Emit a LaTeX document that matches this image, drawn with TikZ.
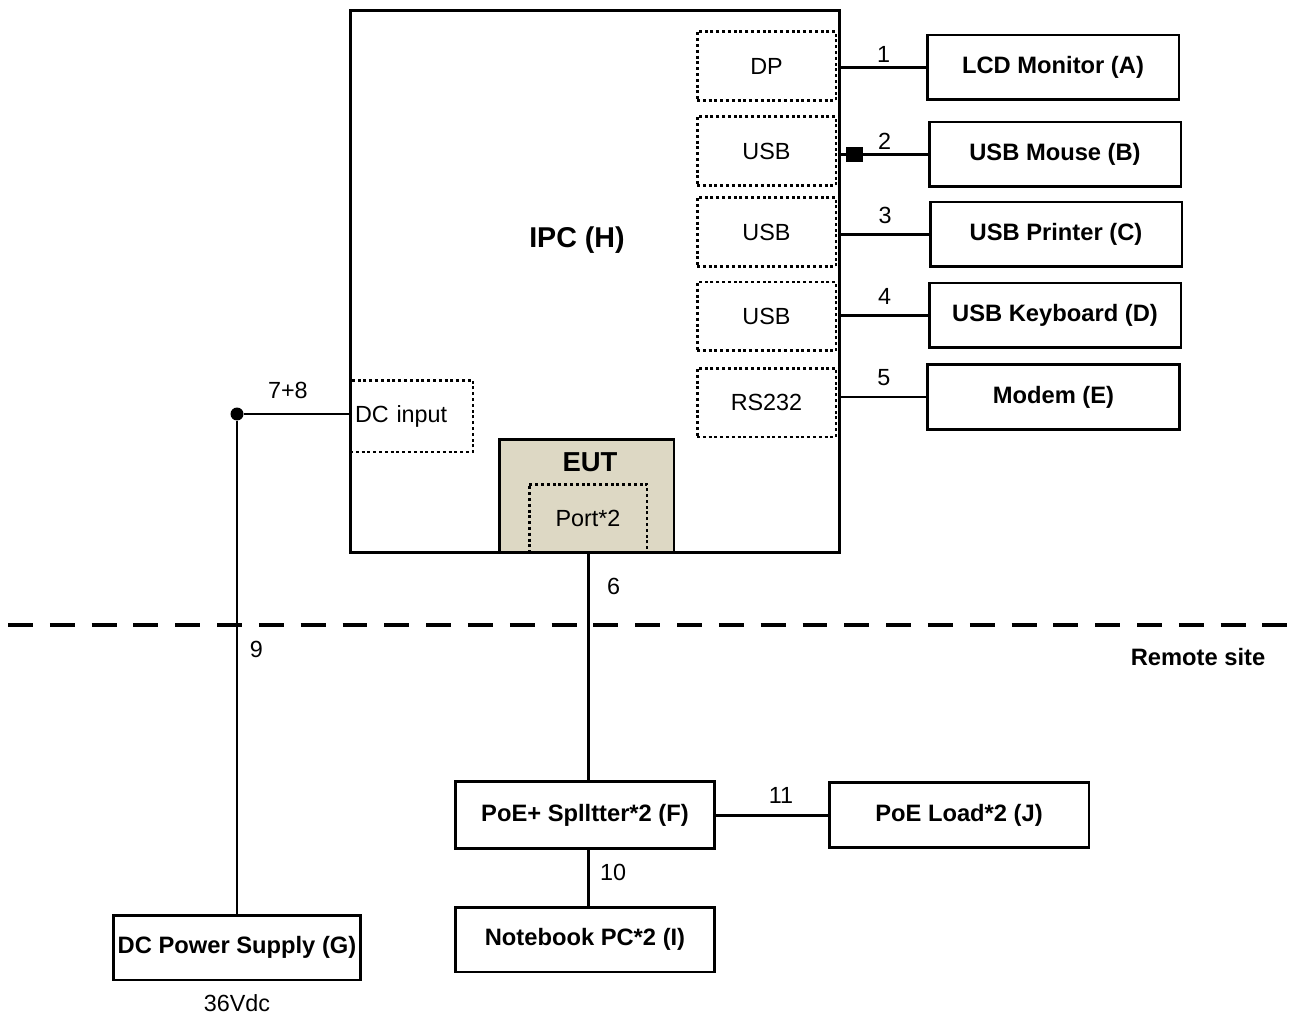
\documentclass[tikz,border=0pt]{standalone}
\usepackage{fontspec}
\setmainfont{Liberation Sans}
\definecolor{eutfill}{RGB}{221,216,196}
\tikzset{
    dev/.style={draw, line width=1.7pt, minimum width=5.04cm, minimum height=1.3cm, inner sep=0pt, font=\fontsize{13.5}{16}\selectfont\bfseries},
    port/.style={draw, line width=1.7pt, dash pattern=on 1.7pt off 1.6pt, minimum width=2.78cm, minimum height=1.38cm, inner sep=0pt, font=\fontsize{13.3}{16}\selectfont},
    num/.style={font=\fontsize{13.3}{16}\selectfont, inner sep=2pt},
    cable/.style={line width=1.7pt}
}
\begin{document}
\begin{tikzpicture}[x=0.02cm, y=-0.02cm]
        \useasboundingbox (0,0) rectangle (1293,1016);
        %IPC
        \node [draw, line width=1.7pt, minimum width=9.8cm, minimum height=10.86cm]
        (ipc)at(595,281.5){};
        \node [font=\fontsize{16.3}{19}\selectfont\bfseries]
        (ipclabel)at(577,240){IPC (H)};
        %Ports
        \node [port] (dp)at(766.5,66){DP};
        \node [port] (usba)at(766.5,151){USB};
        \node [port] (usbb)at(766.5,232){USB};
        \node [port] (usbc)at(766.5,316.5){USB};
        \node [port] (rs)at(766.5,402.5){RS232};
        \node [port, minimum width=2.46cm, minimum height=1.44cm, text width=2.26cm, inner xsep=0.1cm, align=left]
        (dcin)at(411.5,416){DC input};
        %EUT
        \node [draw, line width=1.7pt, fill=eutfill, minimum width=3.5cm, minimum height=2.28cm]
        (eut)at(586.5,496){};
        \node [font=\fontsize{15.6}{19}\selectfont\bfseries] (eutlabel)at(590,462){EUT};
        \node [port, minimum width=2.36cm] (eutport)at(588,518.5){Port*2};

        %Peripherals
        \node [dev] (lcd)at(1053,67.5){LCD Monitor (A)};
        \node [dev] (mouse)at(1055,154.5){USB Mouse (B)};
        \node [dev] (printer)at(1056,234.5){USB Printer (C)};
        \node [dev] (keyboard)at(1055,315.5){USB Keyboard (D)};
        \node [dev] (modem)at(1053.5,397){Modem (E)};

        %Remote site
        \node [dev, minimum width=5.2cm, minimum height=1.34cm] (splitter)at(585,815){PoE+ Splltter*2 (F)};
        \node [dev, minimum width=5.2cm] (load)at(959,815){PoE Load*2 (J)};
        \node [dev, minimum width=5.2cm] (notebook)at(585,939.5){Notebook PC*2 (I)};
        \node [dev, minimum width=4.96cm] (dcps)at(237,947.5){DC Power Supply (G)};
        \node [num] (supply)at(237,1003){36Vdc};
        \node [font=\fontsize{13.5}{16}\selectfont\bfseries] (remote)at(1198,657){Remote site};

        \draw [line width=2.8pt, dash pattern=on 14.2pt off 9.6pt] (8,625)--(1293,625);

        %Cables
        \node [circle, fill, inner sep=0pt, minimum size=0.26cm] (junction)at(237,414){};
        \node [fill, inner sep=0pt, minimum width=0.34cm, minimum height=0.3cm] (mousejack)at(854,154.5){};
        \draw [cable](ipc.east |- lcd.west)--node[num, above]{1}(lcd.west);
        \draw [cable](ipc.east |- mouse.west)--node[num, above]{2}(mouse.west);
        \draw [cable](ipc.east |- printer.west)--node[num, above, yshift=3.5pt]{3}(printer.west);
        \draw [cable](ipc.east |- keyboard.west)--node[num, above, yshift=3.5pt]{4}(keyboard.west);
        \draw [cable](ipc.east |- modem.west)--node[num, above, yshift=3.5pt]{5}(modem.west);
        \draw [cable](junction)--node[num, above, pos=0.42, yshift=6pt]{7+8}(junction -| ipc.west);
        \draw [cable](junction)--node[num, right, pos=0.465, xshift=4.5pt]{9}(dcps.north);
        \draw [cable](eutport.south)--node[num, right, pos=0.14, xshift=8pt]{6}(eutport.south |- splitter.north);
        \draw [cable](eutport.south |- splitter.south)--node[num, right, pos=0.4, xshift=4pt]{10}(eutport.south |- notebook.north);
        \draw [cable](splitter.east)--node[num, above, pos=0.58, yshift=3.5pt]{11}(load.west);

    \end{tikzpicture}
\end{document}
